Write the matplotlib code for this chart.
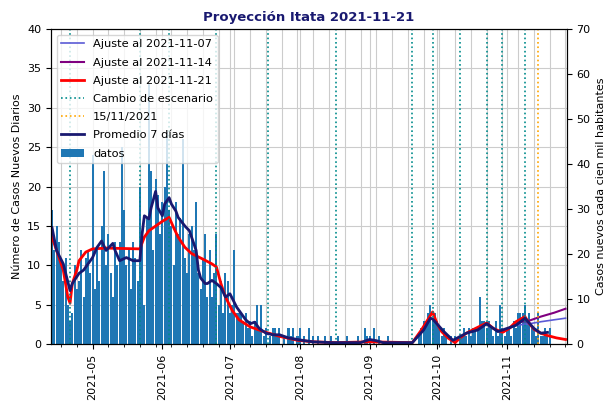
import numpy as np
import pandas as pd
import matplotlib
matplotlib.use('Agg')
import matplotlib.pyplot as plt
import matplotlib.dates as mdates

#%% data
# daily cases, starting 2021-04-13
start = '2021-04-13'
casos = [17, 12, 15, 13, 10, 8, 11,
         5, 3, 4, 10, 7, 8, 12,
         6, 11, 12, 9, 24, 7, 12,
         8, 15, 22, 10, 14, 9, 6,
         13, 10, 13, 25, 17, 10, 12,
         7, 13, 11, 8, 20, 14, 5,
         16, 33, 22, 12, 21, 19, 14,
         18, 20, 27, 17, 15, 10, 18,
         14, 16, 26, 11, 9, 14, 15,
         12, 18, 9, 7, 11, 14, 6,
         12, 6, 9, 14, 5, 8, 4,
         9, 8, 4, 5, 12, 4, 4,
         4, 3, 4, 2, 3, 1, 3,
         5, 2, 5, 1, 2, 0, 1,
         2, 2, 1, 2, 0, 1, 0,
         2, 1, 2, 0, 1, 2, 0,
         1, 0, 2, 0, 1, 0, 1,
         0, 0, 1, 0, 0, 1, 0,
         0, 1, 0, 0, 0, 1, 0,
         0, 0, 0, 1, 0, 0, 2,
         1, 1, 0, 2, 0, 1, 0,
         0, 0, 1, 0, 0, 0, 0,
         0, 0, 0, 0, 0, 0, 0,
         0, 0, 1, 2, 3, 3, 4,
         5, 3, 4, 3, 2, 1, 2,
         1, 0, 1, 0, 1, 0, 1,
         1, 2, 1, 2, 1, 2, 2,
         2, 6, 3, 3, 2, 3, 2,
         1, 3, 1, 5, 2, 1, 2,
         2, 1, 3, 2, 4, 4, 4,
         5, 3, 4, 2, 2, 1, 4,
         1, 1, 2, 1, 2]

# 7 day average, read at points
prom_fechas = ['2021-04-13', '2021-04-15', '2021-04-18', '2021-04-21', '2021-04-22', '2021-04-25',
               '2021-04-27', '2021-04-30', '2021-05-01', '2021-05-03', '2021-05-05', '2021-05-07',
               '2021-05-10', '2021-05-11', '2021-05-13', '2021-05-16', '2021-05-19', '2021-05-22',
               '2021-05-23', '2021-05-24', '2021-05-26', '2021-05-27', '2021-05-29', '2021-05-30',
               '2021-06-01', '2021-06-02', '2021-06-04', '2021-06-05', '2021-06-07', '2021-06-08',
               '2021-06-11', '2021-06-13', '2021-06-16', '2021-06-17', '2021-06-18', '2021-06-20',
               '2021-06-21', '2021-06-23', '2021-06-25', '2021-06-27', '2021-06-29', '2021-07-01',
               '2021-07-04', '2021-07-05', '2021-07-08', '2021-07-10', '2021-07-12', '2021-07-14',
               '2021-07-17', '2021-07-20', '2021-07-23', '2021-07-27', '2021-07-31', '2021-08-02',
               '2021-08-07', '2021-08-15', '2021-08-28', '2021-08-29', '2021-09-01', '2021-09-04',
               '2021-09-07', '2021-09-20', '2021-09-25', '2021-09-28', '2021-09-29', '2021-10-04',
               '2021-10-08', '2021-10-14', '2021-10-19', '2021-10-23', '2021-10-28', '2021-10-30',
               '2021-11-03', '2021-11-05', '2021-11-09', '2021-11-13', '2021-11-16', '2021-11-19']
prom_valores = [14.8, 11.9, 10.2, 6.8, 7.7, 9.0,
                9.4, 10.6, 11.0, 12.3, 13.1, 11.9,
                12.8, 11.9, 10.6, 11.0, 10.6, 10.6,
                14.0, 16.3, 15.9, 17.3, 19.4, 17.3,
                16.3, 17.8, 18.6, 17.8, 16.9, 16.1,
                15.0, 14.4, 11.9, 9.4, 8.4, 7.7,
                7.7, 8.1, 7.7, 7.2, 6.0, 6.4,
                4.7, 4.3, 3.1, 2.6, 2.8, 2.0,
                1.4, 1.2, 1.2, 0.8, 0.6, 0.5,
                0.3, 0.2, 0.2, 0.3, 0.6, 0.45,
                0.2, 0.2, 1.8, 3.3, 3.2, 1.6,
                0.5, 1.4, 1.8, 2.6, 1.6, 1.8,
                2.2, 2.4, 3.3, 2.0, 1.4, 1.5]

# fit 2021-11-21
aj21_fechas = ['2021-04-13', '2021-04-18', '2021-04-20', '2021-04-21', '2021-04-22', '2021-04-24',
               '2021-04-25', '2021-04-28', '2021-05-01', '2021-05-07', '2021-05-22', '2021-05-24',
               '2021-05-26', '2021-05-29', '2021-06-01', '2021-06-04', '2021-06-06', '2021-06-08',
               '2021-06-11', '2021-06-14', '2021-06-19', '2021-06-23', '2021-06-25', '2021-06-27',
               '2021-06-29', '2021-07-02', '2021-07-05', '2021-07-10', '2021-07-16', '2021-07-23',
               '2021-07-31', '2021-08-07', '2021-08-17', '2021-09-01', '2021-09-20', '2021-09-24',
               '2021-09-29', '2021-10-01', '2021-10-03', '2021-10-06', '2021-10-09', '2021-10-11',
               '2021-10-14', '2021-10-18', '2021-10-23', '2021-10-26', '2021-10-30', '2021-11-02',
               '2021-11-05', '2021-11-09', '2021-11-11', '2021-11-13', '2021-11-16', '2021-11-19',
               '2021-11-23', '2021-11-27']
aj21_valores = [13.6, 9.4, 6.0, 5.2, 7.7, 9.4,
                10.6, 11.7, 12.1, 12.2, 12.1, 13.6,
                14.4, 15.0, 15.6, 16.1, 14.8, 13.6,
                12.3, 11.5, 10.8, 10.2, 9.8, 7.7,
                6.0, 4.3, 3.1, 2.2, 1.6, 1.0,
                0.5, 0.3, 0.2, 0.3, 0.2, 1.8,
                4.1, 2.6, 1.6, 0.75, 0.2, 0.75,
                1.4, 2.0, 2.7, 2.0, 1.5, 2.0,
                2.85, 3.5, 2.6, 1.9, 1.4, 1.1,
                0.8, 0.6]

# fit 2021-11-14 (only the end part differs from the last fit)
aj14_fechas = ['2021-10-30', '2021-11-02', '2021-11-05', '2021-11-08', '2021-11-10', '2021-11-16',
               '2021-11-22', '2021-11-27']
aj14_valores = [1.5, 2.0, 2.6, 2.9, 2.9, 3.5, 4.0, 4.5]

# fit 2021-11-07
aj07_fechas = ['2021-10-30', '2021-11-02', '2021-11-05', '2021-11-08', '2021-11-10', '2021-11-16',
               '2021-11-22', '2021-11-27']
aj07_valores = [1.5, 2.0, 2.4, 2.5, 2.55, 2.85, 3.1, 3.3]

# change of scenario dates
cambios = ['2021-04-21', '2021-05-22', '2021-06-04', '2021-06-25', '2021-07-18', '2021-08-17',
           '2021-09-20', '2021-09-29', '2021-10-11', '2021-10-23', '2021-10-30', '2021-11-09']
fecha_hoy = '2021-11-15'

# population factor for the right axis (cases per 100k)
poblacion = 57143

#%% plot
fechas = pd.date_range(start, periods=len(casos), freq='D')

fig = plt.figure(figsize=(6.06, 4.04), dpi=100)
ax = fig.add_axes([0.084, 0.148, 0.851, 0.780])

ax.plot(pd.to_datetime(aj07_fechas), aj07_valores, color='#5b5bd6', lw=1.2, label='Ajuste al 2021-11-07')
ax.plot(pd.to_datetime(aj14_fechas), aj14_valores, color='purple', lw=1.5, label='Ajuste al 2021-11-14')
ax.plot(pd.to_datetime(aj21_fechas), aj21_valores, color='red', lw=2, label='Ajuste al 2021-11-21')
for i, c in enumerate(cambios):
    ax.axvline(pd.Timestamp(c), color='darkcyan', ls=':', lw=1.2,
               label='Cambio de escenario' if i == 0 else None)
ax.axvline(pd.Timestamp(fecha_hoy), color='orange', ls=':', lw=1.2, label='15/11/2021')
ax.plot(pd.to_datetime(prom_fechas), prom_valores, color='midnightblue', lw=2, label='Promedio 7 días')
ax.bar(fechas, casos, width=0.9, color='#1f77b4', label='datos')

ax.set_xlim(pd.Timestamp('2021-04-12 12:00'), pd.Timestamp('2021-11-27 12:00'))
ax.set_ylim(0, 40)
ax.set_yticks(np.arange(0, 41, 5))
ax.xaxis.set_major_locator(mdates.MonthLocator())
ax.xaxis.set_major_formatter(mdates.DateFormatter('%Y-%m'))
ax.xaxis.set_minor_locator(mdates.WeekdayLocator(byweekday=mdates.SA))
ax.grid(True, which='both', color='#cccccc', lw=0.8)
ax.set_axisbelow(True)
plt.setp(ax.get_xticklabels(), rotation=90)
ax.tick_params(labelsize=8)
ax.set_ylabel('Número de Casos Nuevos Diarios', fontsize=8)
ax.set_title('Proyección Itata 2021-11-21', color='midnightblue', fontweight='bold', fontsize=9.5)
ax.legend(loc='upper left', fontsize=8.2, framealpha=0.8, labelspacing=0.72)

ax2 = ax.twinx()
ax2.set_ylim(0, 40 * 100000 / poblacion)
ax2.set_yticks(np.arange(0, 71, 10))
ax2.tick_params(labelsize=8)
ax2.set_ylabel('Casos nuevos cada cien mil habitantes', fontsize=8)

fig.savefig('out.png', dpi=100)
